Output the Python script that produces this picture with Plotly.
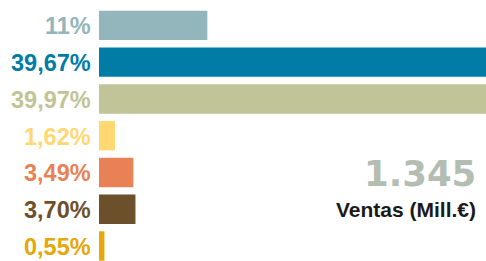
import plotly.graph_objects as go

# Data
segments = ["s1", "s2", "s3", "s4", "s5", "s6", "s7"]
values = [11.0, 39.67, 39.97, 1.62, 3.49, 3.70, 0.55]
labels = ["11%", "39,67%", "39,97%", "1,62%", "3,49%", "3,70%", "0,55%"]
colors = ["#93b5bc", "#007ca6", "#c1c496", "#ffd871", "#e88256", "#6c4f2b", "#e5a70a"]
total_value = "1.345"
total_label = "Ventas (Mill.€)"

ypos = list(range(len(segments)))

# figure is a little wider than the window so the long bars run off the right edge
W, H = 494, 261
ml, mr, mt, mb = 99, 0, 7, 0
pw, ph = W - ml - mr, H - mt - mb

fig = go.Figure(
    go.Bar(
        x=values,
        y=ypos,
        orientation="h",
        marker=dict(color=colors, line=dict(width=0)),
        width=0.8,
        hoverinfo="skip",
    )
)

for i, (lab, col) in enumerate(zip(labels, colors)):
    fig.add_annotation(
        x=0, xref="paper", y=i, yref="y",
        text=lab, showarrow=False,
        xanchor="right", yanchor="middle", xshift=-6, yshift=-1,
        font=dict(family="Liberation Sans", size=23.5, color=col, weight="bold"),
    )

fig.add_annotation(
    x=(478 - ml) / pw, xref="paper", y=(H - 174) / ph, yref="paper",
    xanchor="right", yanchor="middle",
    text=total_value, showarrow=False,
    font=dict(family="DejaVu Sans", size=35.5, color="#b4bdb1", weight="bold"),
)
fig.add_annotation(
    x=(478 - ml) / pw, xref="paper", y=(H - 209) / ph, yref="paper",
    xanchor="right", yanchor="middle",
    text=total_label, showarrow=False,
    font=dict(family="Liberation Sans", size=21, color="#1a1a1a", weight="bold"),
)

fig.update_layout(
    width=W, height=H,
    margin=dict(l=ml, r=mr, t=mt, b=mb, pad=0),
    paper_bgcolor="white", plot_bgcolor="white",
    showlegend=False,
    xaxis=dict(range=[0, pw / 9.85], visible=False, fixedrange=True),
    yaxis=dict(range=[-0.5 + ph / 36.77, -0.5], visible=False, fixedrange=True),
)

fig.write_html(
    "out.html",
    config={"displayModeBar": False},
    post_script=(
        "document.documentElement.style.margin='0';"
        "document.documentElement.style.overflow='hidden';"
        "document.body.style.margin='0';document.body.style.overflow='hidden';"
    ),
)
